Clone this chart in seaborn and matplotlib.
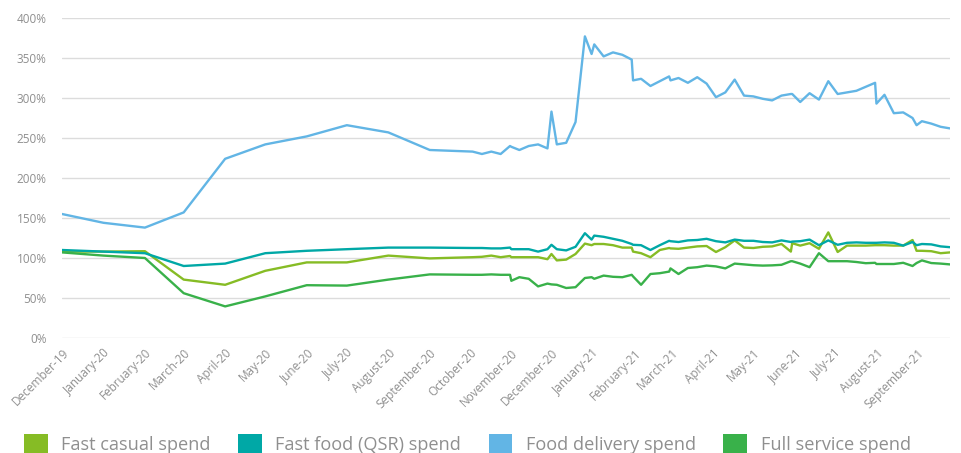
import pandas as pd
import matplotlib
matplotlib.use('Agg')
import matplotlib.pyplot as plt
import matplotlib.dates as mdates
from matplotlib.patches import Patch
from matplotlib.ticker import FuncFormatter
import seaborn as sns

# dates of the observations (monthly first, then weekly)
dates = [
    '2019-12-01', '2020-01-01', '2020-02-01', '2020-03-01', '2020-04-01', '2020-05-01',
    '2020-06-01', '2020-07-01', '2020-08-01', '2020-09-01',
    '2020-10-03', '2020-10-10', '2020-10-17', '2020-10-24', '2020-10-31', '2020-11-01',
    '2020-11-07', '2020-11-14', '2020-11-21', '2020-11-28', '2020-12-01', '2020-12-05',
    '2020-12-12', '2020-12-19', '2020-12-26', '2020-12-31', '2021-01-02', '2021-01-09',
    '2021-01-16', '2021-01-23', '2021-01-30', '2021-01-31', '2021-02-06', '2021-02-13',
    '2021-02-20', '2021-02-27', '2021-02-28', '2021-03-06', '2021-03-13', '2021-03-20',
    '2021-03-27', '2021-04-03', '2021-04-10', '2021-04-17', '2021-04-24', '2021-05-01',
    '2021-05-08', '2021-05-15', '2021-05-22', '2021-05-29', '2021-05-30', '2021-06-05',
    '2021-06-12', '2021-06-19', '2021-06-26', '2021-07-03', '2021-07-10', '2021-07-17',
    '2021-07-24', '2021-07-31', '2021-08-01', '2021-08-07', '2021-08-14', '2021-08-21',
    '2021-08-28', '2021-08-31', '2021-09-04', '2021-09-11', '2021-09-18', '2021-09-25',
]

fast_casual = [
    108, 108, 108.5, 73, 66.5, 84, 94.5, 94.5, 103, 99.5,
    101, 101.5, 103, 101, 102.5, 101, 101, 101, 101, 98.5, 105, 97,
    98, 105, 118, 116, 117.5, 117.5, 116, 113, 113, 108, 106, 101,
    110, 112.5, 112, 111.5, 113, 114.5, 115, 107.5, 113.5, 122, 113, 112.5,
    114, 114.5, 117.5, 108, 118.5, 115.5, 118.5, 111.5, 132, 107.5, 115.5, 115.5,
    115.5, 116, 116, 116, 115.5, 115.5, 122.5, 109, 109, 108.5, 106, 107,
]

fast_food = [
    110, 108, 106, 90, 93, 106, 109, 111, 113, 113,
    112.5, 112.5, 112, 112, 113, 111, 111, 111, 108, 111, 116.5, 111,
    109.5, 114, 131, 123, 128, 126.5, 124, 121.5, 117.5, 116.5, 116, 110,
    116, 121.5, 121, 120, 122, 122.5, 124, 121, 119.5, 123, 121.5, 121.5,
    120, 119.5, 122, 120, 120.5, 121, 123, 116, 122, 116.5, 119, 119.5,
    119, 119, 119, 119.5, 119, 115.5, 120, 116, 117.5, 117, 114.5, 113.5,
]

food_delivery = [
    155, 144, 138, 157, 224, 242, 252, 266, 257, 235,
    233, 230, 233, 230, 240, 239, 235, 240, 242, 237, 283, 242,
    244, 270, 377, 355, 367, 352, 357, 354, 348, 322, 324, 315,
    321, 327, 322, 325, 319, 326, 318, 301, 307, 323, 303, 302,
    299, 297, 303, 305, 305, 295, 306, 298, 321, 305, 307, 309,
    314, 319, 293, 304, 281, 282, 275, 266, 271, 268, 264, 262,
]

full_service = [
    107, 103, 100, 56, 39.5, 52, 66, 65.5, 73, 79.5,
    79, 79, 79.5, 79, 79, 71.5, 76, 74, 64.5, 68, 67, 66.5,
    62.5, 63.5, 75, 76, 74, 78, 76.5, 76, 79, 77, 66.5, 80,
    81, 83, 87, 80, 87.5, 88.5, 90.5, 89.5, 87, 93, 92, 91,
    90.5, 90.8, 91.5, 96, 96, 93, 88.5, 106, 96, 96, 96, 95,
    93.5, 94, 92.5, 92.5, 92.5, 94, 90, 93.7, 97, 93.7, 93, 92,
]

series_names = ['Fast casual spend', 'Fast food (QSR) spend', 'Food delivery spend', 'Full service spend']
colors = ['#86BC25', '#00A8A6', '#62B5E5', '#39B14A']

df = pd.DataFrame({
    'date': pd.to_datetime(dates),
    series_names[0]: fast_casual,
    series_names[1]: fast_food,
    series_names[2]: food_delivery,
    series_names[3]: full_service,
})
df_long = df.melt(id_vars='date', var_name='series', value_name='pct')

sns.set_style('white')
plt.rcParams['font.family'] = ['Open Sans', 'DejaVu Sans']
text_grey = '#8f8f8f'

fig = plt.figure(figsize=(9.61, 4.53), dpi=100)
ax = fig.add_axes([62 / 961, 1 - 338 / 453, 888 / 961, 320 / 453])

sns.lineplot(data=df_long, x='date', y='pct', hue='series', hue_order=series_names,
             palette=colors, linewidth=1.7, estimator=None, legend=False, ax=ax)

ax.set_ylim(0, 400)
ax.set_yticks(range(0, 401, 50))
ax.yaxis.set_major_formatter(FuncFormatter(lambda v, p: f'{v:.0f}%'))
ax.set_xlim(pd.Timestamp('2019-12-01'), pd.Timestamp('2021-09-25'))
ax.xaxis.set_major_locator(mdates.MonthLocator())
ax.xaxis.set_major_formatter(mdates.DateFormatter('%B-%y'))

ax.set_xlabel('')
ax.set_ylabel('')
ax.grid(axis='y', color='#dcdcdc', linewidth=1)
ax.grid(axis='x', visible=False)
for s in ax.spines.values():
    s.set_visible(False)
ax.tick_params(axis='both', length=0, colors=text_grey, labelsize=8.5)
ax.tick_params(axis='y', pad=11)
ax.tick_params(axis='x', pad=6)
for lbl in ax.get_xticklabels():
    lbl.set_rotation(45)
    lbl.set_ha('right')
    lbl.set_rotation_mode('anchor')

handles = [Patch(facecolor=c, edgecolor='none', label=n) for n, c in zip(series_names, colors)]
fig.legend(handles=handles, loc='upper left', bbox_to_anchor=(24 / 961, 1 - 434 / 453),
           ncol=4, frameon=False, fontsize=13.1, labelcolor=text_grey,
           handlelength=1.3, handleheight=1.3, handletextpad=0.75,
           columnspacing=1.5, borderpad=0, borderaxespad=0)

fig.savefig('out.png', dpi=100)
